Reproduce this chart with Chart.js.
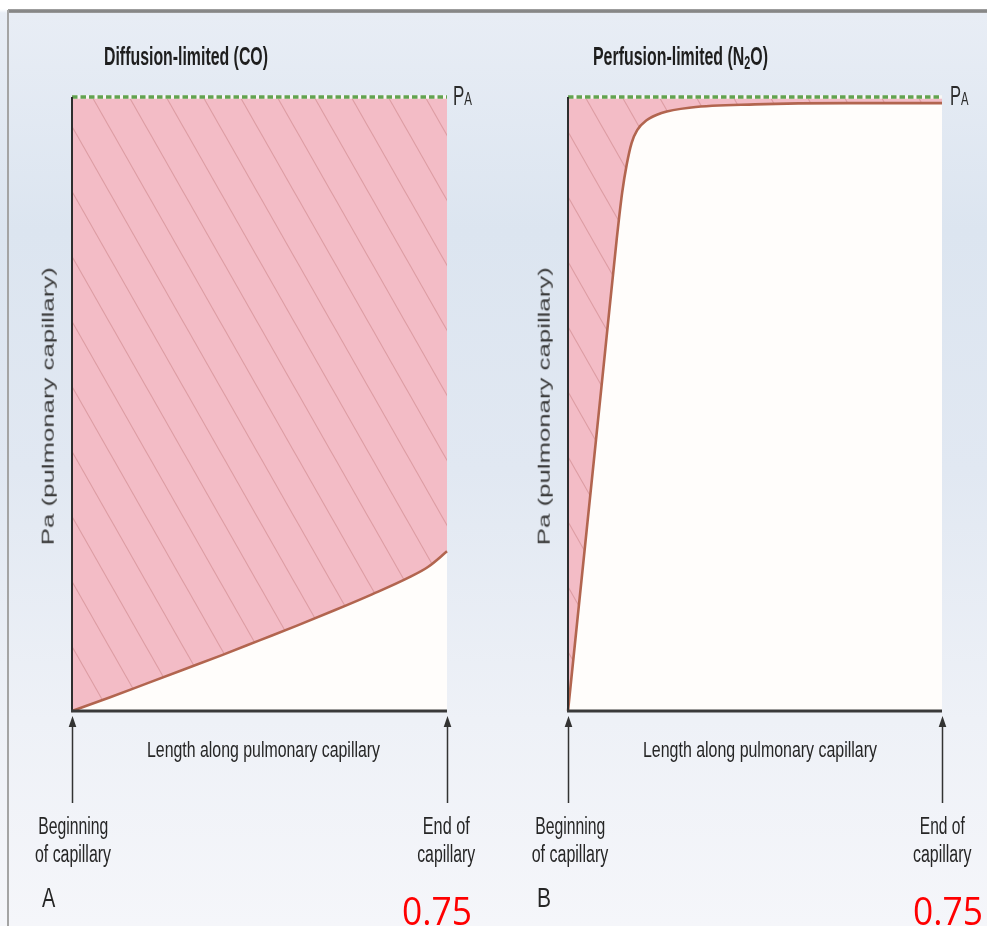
<!DOCTYPE html>
<html>
<head>
<meta charset="utf-8">
<script src="https://cdn.jsdelivr.net/npm/chart.js@4.4.1/dist/chart.umd.min.js"></script>
<style>
  html,body{margin:0;padding:0;}
  body{width:987px;height:926px;overflow:hidden;position:relative;
    background:linear-gradient(to bottom,#ffffff 0px,#ffffff 9px,#e8edf5 13px,#dce5f0 230px,#e1e8f2 470px,#eef1f7 720px,#f5f6fa 926px);}
  #topline{position:absolute;left:8px;top:9px;width:979px;height:4px;
    background:linear-gradient(to bottom,#a8a8a8,#7e7e7e,#a0a0a0);}
  #leftline{position:absolute;left:7px;top:10px;width:2px;height:916px;background:#a4a4a4;}
  canvas{position:absolute;top:0;}
  #cvA{left:0;}
  #cvB{left:493px;}
  .lbl{position:absolute;white-space:nowrap;line-height:1;}
  .lbl sub{font-size:0.68em;line-height:0;vertical-align:-0.22em;}
  .lbl small{font-size:0.68em;}
</style>
</head>
<body>
<div id="topline"></div>
<div id="leftline"></div>
<canvas id="cvA" width="493" height="926"></canvas>
<canvas id="cvB" width="494" height="926"></canvas>
<script>
// ---------------- data ----------------
// normalised length along the capillary (0 = beginning, 1 = end)
const lengthCO  = [0, 0.1, 0.2, 0.3, 0.4, 0.5, 0.6, 0.7, 0.8, 0.9, 0.95, 1.0];
// Pa / PA for carbon monoxide (diffusion-limited)
const paCO      = [0, 0.022, 0.045, 0.068, 0.091, 0.115, 0.139, 0.164, 0.19, 0.218, 0.235, 0.26];
const lengthN2O = [0, 0.05, 0.10, 0.13, 0.145, 0.157, 0.17, 0.185, 0.21, 0.25, 0.33, 0.5, 0.75, 1.0];
// Pa / PA for nitrous oxide (perfusion-limited)
const paN2O     = [0, 0.295, 0.59, 0.767, 0.845, 0.89, 0.925, 0.946, 0.962, 0.974, 0.983, 0.988, 0.99, 0.99];
// alveolar partial pressure level (PA) across the capillary
const paExtent  = [0, 1];
const alveolarLevel = [1, 1];

const titles = ['Diffusion-limited (CO)', 'Perfusion-limited (N<sub>2</sub>O)'];
const yAxisTitle = 'Pa  (pulmonary capillary)';
const xAxisTitle = 'Length along pulmonary capillary';
const startLabel = ['Beginning', 'of capillary'];
const endLabel = ['End of', 'capillary'];
const panelLetters = ['A', 'B'];
const scoreText = '0.75';

// ---------------- styles ----------------
const PINK = '#f3bcc6';
const CURVE = '#b2654f';
const GREEN = '#62a250';

function hatchPattern(ctx){
  const W = 37, H = 65;
  const c = document.createElement('canvas');
  c.width = W; c.height = H;
  const g = c.getContext('2d');
  g.fillStyle = PINK; g.fillRect(0,0,W,H);
  g.strokeStyle = 'rgba(185,105,105,0.38)';
  g.lineWidth = 1.1;
  for (let k=-1;k<=1;k++){
    g.beginPath();
    g.moveTo(k*W - W, -H);
    g.lineTo(k*W + 2*W, 2*H);
    g.stroke();
  }
  return ctx.createPattern(c, 'repeat');
}

const deco = {
  id: 'deco',
  beforeDatasetsDraw(chart){
    const a = chart.chartArea, c = chart.ctx;
    c.save();
    c.fillStyle = '#fffdfb';
    c.fillRect(a.left, a.top, a.right-a.left, a.bottom-a.top);
    c.restore();
  },
  afterDraw(chart){
    const a = chart.chartArea, c = chart.ctx, xs = chart.scales.x;
    c.save();
    // left axis
    c.strokeStyle = '#2e2e2e'; c.lineWidth = 2;
    c.beginPath(); c.moveTo(a.left, a.top); c.lineTo(a.left, a.bottom+1); c.stroke();
    // bottom axis
    c.strokeStyle = '#3a3a3a'; c.lineWidth = 3;
    c.beginPath(); c.moveTo(a.left-1, a.bottom); c.lineTo(a.right, a.bottom); c.stroke();
    // arrows at beginning and end of capillary
    [paExtent[0], paExtent[1]].forEach(v=>{
      const x = Math.round(xs.getPixelForValue(v)) + 0.5;
      c.strokeStyle = '#333'; c.lineWidth = 1.5;
      c.beginPath(); c.moveTo(x, a.bottom+92); c.lineTo(x, a.bottom+14); c.stroke();
      c.fillStyle = '#333';
      c.beginPath(); c.moveTo(x, a.bottom+5); c.lineTo(x-3.8, a.bottom+16); c.lineTo(x+3.8, a.bottom+16); c.closePath(); c.fill();
    });
    c.restore();
  }
};

function makeChart(id, xs, ys, pad){
  const ctx = document.getElementById(id).getContext('2d');
  const paPoints = paExtent.map((x,i)=>({x, y: alveolarLevel[i]}));
  return new Chart(ctx, {
    type: 'line',
    data: {
      datasets: [
        {
          label: 'PA',
          data: paPoints,
          borderColor: GREEN, borderWidth: 3.6, borderDash: [5.5, 3],
          pointRadius: 0, fill: false, tension: 0, clip: false
        },
        {
          label: 'PA gaps',
          data: paPoints,
          borderColor: 'rgba(250,250,246,0.9)', borderWidth: 3.6,
          pointRadius: 0, fill: false, tension: 0, clip: false
        },
        {
          label: 'Pa',
          data: xs.map((x,i)=>({x, y: ys[i]})),
          borderColor: CURVE, borderWidth: 2.6,
          backgroundColor: hatchPattern(ctx),
          fill: 'end', pointRadius: 0, clip: 3,
          cubicInterpolationMode: 'monotone'
        }
      ]
    },
    options: {
      responsive: false, animation: false, devicePixelRatio: 1,
      layout: { padding: pad },
      plugins: { legend: {display:false}, tooltip: {enabled:false}, title: {display:false} },
      scales: {
        x: { type: 'linear', min: 0, max: 1, display: false },
        y: { type: 'linear', min: 0, max: 1, display: false }
      }
    },
    plugins: [deco]
  });
}

makeChart('cvA', lengthCO, paCO, {left:72, right:46, top:97, bottom:215});
makeChart('cvB', lengthN2O, paN2O, {left:75, right:45, top:97, bottom:215});

// ---------------- text ----------------
const SANS = '"Liberation Sans", Arial, Helvetica, sans-serif';
function label(html, o){
  const d = document.createElement('div');
  d.className = 'lbl';
  d.innerHTML = html;
  d.style.fontSize = o.size + 'px';
  d.style.fontWeight = o.bold ? '700' : '400';
  d.style.fontFamily = o.font || SANS;
  d.style.color = o.color || '#262626';
  document.body.appendChild(d);
  const w = d.getBoundingClientRect().width;
  const s = o.width / w;
  const k = o.baseK || 0.8465;
  if (o.rotate){
    d.style.left = (o.cx - w/2) + 'px';
    d.style.top = (o.cy - o.size/2) + 'px';
    d.style.transformOrigin = '50% 50%';
    d.style.transform = 'rotate(-90deg) scaleX(' + s + ')';
  } else {
    const centered = o.cx !== undefined;
    d.style.left = (centered ? o.cx - w/2 : o.x) + 'px';
    d.style.top = (o.base - k*o.size) + 'px';
    d.style.transformOrigin = centered ? '50% 50%' : '0 50%';
    d.style.transform = 'scaleX(' + s + ')';
  }
}

const panels = [
  {title:{x:104,w:164}, pa:{x:453,w:19}, ylab:{cx:47.5}, xlab:{x:147,w:233},
   beg:{cx:73, w1:70, w2:76}, end:{cx:446.5, w1:47, w2:58}, letter:{x:41.7,w:13.3}, score:{x:401.5,w:70}},
  {title:{x:593,w:175}, pa:{x:950,w:18.5}, ylab:{cx:544}, xlab:{x:643,w:234},
   beg:{cx:570, w1:70, w2:76.5}, end:{cx:942.5, w1:45, w2:58.5}, letter:{x:537,w:14}, score:{x:913,w:70}}
];
panels.forEach((p,i)=>{
  label(titles[i], {x:p.title.x, width:p.title.w, base:65, size:26, bold:true, color:'#1e1e1e'});
  label('P<small>A</small>', {x:p.pa.x, width:p.pa.w, base:105.5, size:27, color:'#2a2a2a'});
  label(yAxisTitle, {rotate:true, cx:p.ylab.cx, cy:406, width:278, size:16.5, color:'#3a3a3a'});
  label(xAxisTitle, {x:p.xlab.x, width:p.xlab.w, base:757.5, size:22, color:'#262626'});
  label(startLabel[0], {cx:p.beg.cx, width:p.beg.w1, base:834, size:23});
  label(startLabel[1], {cx:p.beg.cx, width:p.beg.w2, base:862, size:23});
  label(endLabel[0], {cx:p.end.cx, width:p.end.w1, base:834, size:23});
  label(endLabel[1], {cx:p.end.cx, width:p.end.w2, base:862, size:23});
  label(panelLetters[i], {x:p.letter.x, width:p.letter.w, base:908, size:28, color:'#262626'});
  label(scoreText, {x:p.score.x, width:p.score.w, base:925, size:39, color:'#ff0000',
    font:'"Open Sans", "Noto Sans", sans-serif', baseK:0.888});
});
</script>
</body>
</html>
